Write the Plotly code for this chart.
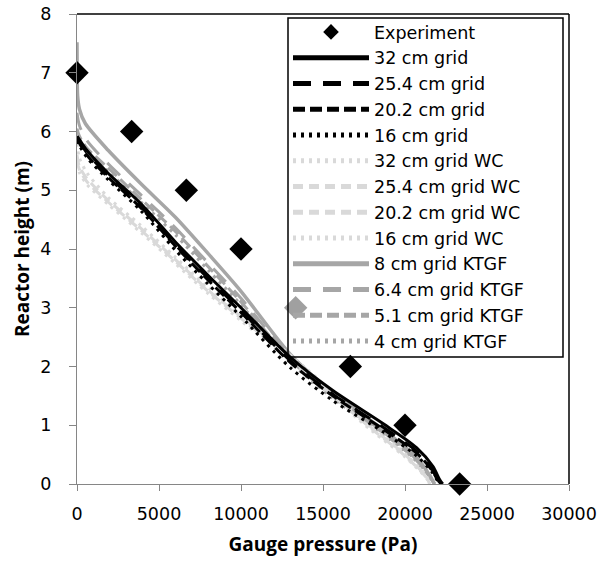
import plotly.graph_objects as go

# ---------------- data ----------------
exp_p = [0, 3333, 6667, 10000, 13333, 16667, 20000, 23333]
exp_h = [7, 6, 5, 4, 3, 2, 1, 0]
exp_colors = ["#000000", "#000000", "#000000", "#000000", "#A0A0A0", "#000000", "#000000", "#000000"]

p_grid = [0, 150, 600, 1900, 3900, 6000, 8000, 10000, 13000, 15600, 18700, 20700, 21700, 22100, 22300]
h_32 = [5.92, 5.86, 5.68, 5.29, 4.77, 4.12, 3.55, 3.0, 2.16, 1.59, 1.02, 0.62, 0.3, 0.08, 0]
p_grid2 = [0, 150, 600, 1900, 3900, 6000, 8000, 10000, 13000, 15600, 18700, 20700, 21600, 22000, 22200]
h_254 = [5.9, 5.83, 5.64, 5.25, 4.72, 4.07, 3.5, 2.95, 2.1, 1.53, 0.96, 0.56, 0.27, 0.08, 0]
h_202 = [5.88, 5.8, 5.6, 5.22, 4.7, 4.05, 3.47, 2.92, 2.07, 1.5, 0.93, 0.53, 0.25, 0.07, 0]
h_16 = [5.85, 5.76, 5.56, 5.18, 4.65, 3.98, 3.4, 2.85, 1.98, 1.42, 0.88, 0.48, 0.22, 0.05, 0]

p_wc = [0, 150, 600, 1900, 3900, 6000, 8000, 10000, 12000, 14000, 16000, 18000, 20000, 21300, 21500]
h_32wc = [5.8, 5.55, 5.3, 4.88, 4.4, 3.86, 3.34, 2.88, 2.43, 1.96, 1.46, 0.98, 0.52, 0.14, 0]
h_254wc = [5.6, 5.4, 5.2, 4.83, 4.35, 3.82, 3.3, 2.85, 2.4, 1.93, 1.43, 0.95, 0.5, 0.12, 0]
h_202wc = [5.5, 5.35, 5.15, 4.8, 4.32, 3.79, 3.28, 2.82, 2.37, 1.9, 1.41, 0.93, 0.48, 0.11, 0]
h_16wc = [5.45, 5.3, 5.1, 4.76, 4.28, 3.75, 3.24, 2.78, 2.33, 1.87, 1.38, 0.9, 0.46, 0.1, 0]

p_k8 = [0, 10, 40, 150, 500, 1900, 3900, 6000, 8000, 10000, 13000, 15600, 18700, 20700, 21500, 21800]
h_k8 = [7.52, 7.0, 6.6, 6.38, 6.14, 5.68, 5.11, 4.54, 3.92, 3.28, 2.21, 1.55, 0.92, 0.45, 0.15, 0]
p_k = [0, 150, 600, 1900, 3900, 6000, 8000, 10000, 13000, 15600, 18700, 20700, 21500, 21800]
h_k64 = [6.32, 6.1, 5.85, 5.45, 4.92, 4.36, 3.76, 3.16, 2.16, 1.52, 0.88, 0.42, 0.13, 0]
h_k51 = [6.05, 5.92, 5.72, 5.38, 4.85, 4.3, 3.7, 3.1, 2.12, 1.49, 0.86, 0.4, 0.12, 0]
h_k4 = [6.0, 5.88, 5.66, 5.32, 4.8, 4.24, 3.64, 3.05, 2.08, 1.46, 0.84, 0.38, 0.1, 0]

x_ticks = [0, 5000, 10000, 15000, 20000, 25000, 30000]
y_ticks = [0, 1, 2, 3, 4, 5, 6, 7, 8]

# ---------------- styles ----------------
BLACK = "#000000"
LIGHT = "#D9D9D9"
GRAY = "#A6A6A6"
LONG = "18px,12px"
DASH = "12px,5px"
DOT = "3px,5px"
WCDASH = "10px,6px"

series = [
    ("32 cm grid", p_grid, h_32, BLACK, "solid", 3),
    ("25.4 cm grid", p_grid2, h_254, BLACK, LONG, 3),
    ("20.2 cm grid", p_grid2, h_202, BLACK, DASH, 3),
    ("16 cm grid", p_grid2, h_16, BLACK, DOT, 3),
    ("32 cm grid WC", p_wc, h_32wc, LIGHT, DOT, 3),
    ("25.4 cm grid WC", p_wc, h_254wc, LIGHT, WCDASH, 3),
    ("20.2 cm grid WC", p_wc, h_202wc, LIGHT, WCDASH, 3),
    ("16 cm grid WC", p_wc, h_16wc, LIGHT, DOT, 3),
    ("8 cm grid KTGF", p_k8, h_k8, GRAY, "solid", 3.5),
    ("6.4 cm grid KTGF", p_k, h_k64, GRAY, LONG, 3),
    ("5.1 cm grid KTGF", p_k, h_k51, GRAY, DASH, 3),
    ("4 cm grid KTGF", p_k, h_k4, GRAY, DOT, 3),
]

fig = go.Figure()

# draw lines in reverse so black is on top
for i, (name, px, hy, col, dash, w) in reversed(list(enumerate(series))):
    fig.add_trace(go.Scatter(
        x=px, y=hy, mode="lines", name=name,
        line=dict(color=col, dash=dash, width=w, shape="spline", smoothing=0.8),
        legendrank=10 + i,
    ))

fig.add_trace(go.Scatter(
    x=exp_p, y=exp_h, mode="markers", name="Experiment",
    marker=dict(symbol="diamond", size=18, color=exp_colors, line=dict(width=0)),
    cliponaxis=False, legendrank=1,
))

# plot-area pixel geometry (for paper-coordinate placement)
L, R, T, B = 77, 569, 14, 484
W, H = R - L, B - T

FONT = "Open Sans"
TICKFONT = "DejaVu Sans"
fig.update_layout(
    width=602, height=565,
    margin=dict(l=L, r=602 - R, t=T, b=565 - B),
    paper_bgcolor="white", plot_bgcolor="white",
    font=dict(family=FONT, size=19, color="#000000"),
    showlegend=True,
    legend=dict(
        x=(288 - L) / W, y=1.0, xanchor="left", yanchor="top",
        bgcolor="rgba(255,255,255,0)", borderwidth=0,
        font=dict(family=TICKFONT, size=17.5, color="#000000"),
        itemwidth=76, itemsizing="constant",
        traceorder="normal",
    ),
    xaxis=dict(
        range=[0, 30000], tickvals=x_ticks, ticktext=[str(v) for v in x_ticks],
        tickfont=dict(family=TICKFONT, size=17.5),
        showgrid=False, zeroline=False, showline=True, linecolor="#868686", linewidth=1,
        ticks="outside", ticklen=6, tickcolor="#868686", ticklabelstandoff=8,
        automargin=False,
        title=dict(text="<b>Gauge pressure (Pa)</b>", font=dict(family=FONT, size=19), standoff=14),
    ),
    yaxis=dict(
        range=[0, 8], tickvals=y_ticks, ticktext=[str(v) for v in y_ticks],
        tickfont=dict(family=TICKFONT, size=17.5),
        showgrid=False, zeroline=False, showline=True, linecolor="#868686", linewidth=1,
        ticks="outside", ticklen=7, tickcolor="#868686", ticklabelstandoff=14,
        automargin=False,
        title=dict(text="<b>Reactor height (m)</b>", font=dict(family=FONT, size=19), standoff=5),
    ),
    shapes=[
        dict(type="line", xref="paper", yref="paper", x0=0, x1=1, y0=1, y1=1,
             line=dict(color="#000000", width=1.5), layer="below"),
        dict(type="line", xref="paper", yref="paper", x0=1, x1=1, y0=0, y1=1,
             line=dict(color="#000000", width=1.5), layer="below"),
        # legend frame
        dict(type="rect", xref="paper", yref="paper",
             x0=(288 - L) / W, x1=(563 - L) / W, y0=(B - 357) / H, y1=(B - 18) / H,
             line=dict(color="#000000", width=1.5), fillcolor="rgba(0,0,0,0)", layer="above"),
    ],
)

fig.write_html("out.html")
